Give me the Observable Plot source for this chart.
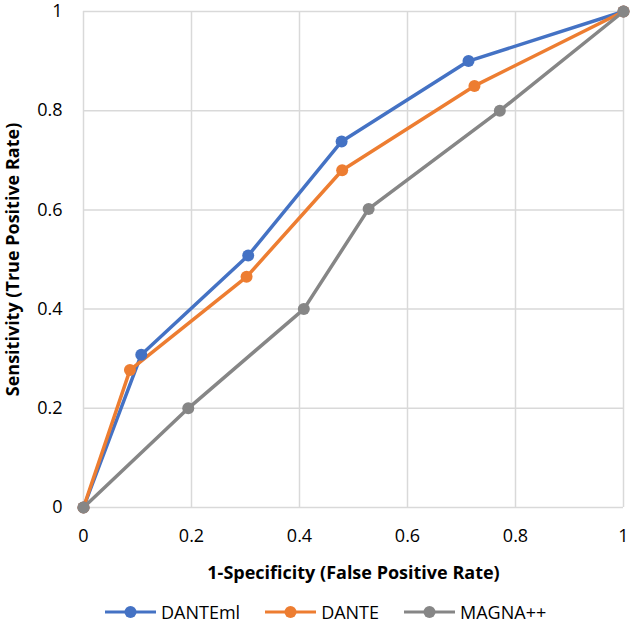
<!DOCTYPE html>
<html>
<head>
<meta charset="utf-8">
<script src="https://cdn.jsdelivr.net/npm/d3@7"></script>
<script src="https://cdn.jsdelivr.net/npm/@observablehq/plot@0.6"></script>
<style>
  html, body { margin: 0; padding: 0; background: #fff; }
  body { width: 630px; height: 626px; overflow: hidden; font-family: "Open Sans", sans-serif; position: relative; }
  #chart { position: absolute; left: 0; top: 0; }
  #legend { position: absolute; left: 105px; top: 601px; height: 22px; display: flex; align-items: center; font-size: 18px; line-height: 20px; color: #000; }
  .item { display: flex; align-items: center; gap: 5px; margin-right: 25px; }
  .item svg { display: block; }
</style>
</head>
<body>
<div id="chart"></div>
<div id="legend"></div>
<script>
const seriesNames = ["DANTEml", "DANTE", "MAGNA++"];
const seriesColors = ["#4472C4", "#ED7D31", "#868686"];
const danteMlFpr = [0, 0.107, 0.305, 0.478, 0.713, 1];
const danteMlTpr = [0, 0.308, 0.508, 0.738, 0.900, 1];
const danteFpr = [0, 0.086, 0.302, 0.479, 0.724, 1];
const danteTpr = [0, 0.277, 0.465, 0.680, 0.850, 1];
const magnaFpr = [0, 0.194, 0.408, 0.528, 0.771, 1];
const magnaTpr = [0, 0.200, 0.400, 0.602, 0.800, 1];
const tickValues = [0, 0.2, 0.4, 0.6, 0.8, 1];

const xs = [danteMlFpr, danteFpr, magnaFpr];
const ys = [danteMlTpr, danteTpr, magnaTpr];
const data = seriesNames.flatMap((s, i) => xs[i].map((x, j) => ({series: s, x, y: ys[i][j]})));
const fmt = d => d === 0 ? "0" : d === 1 ? "1" : String(d);

const plot = Plot.plot({
  width: 630,
  height: 590,
  marginTop: 11,
  marginBottom: 83,
  marginLeft: 83,
  marginRight: 7,
  style: {fontFamily: "Open Sans, sans-serif", color: "#000", background: "#fff"},
  x: {domain: [0, 1], ticks: tickValues, tickFormat: fmt},
  y: {domain: [0, 1], ticks: tickValues, tickFormat: fmt},
  color: {domain: seriesNames, range: seriesColors},
  marks: [
    Plot.gridX(tickValues, {stroke: "#d9d9d9", strokeOpacity: 1, strokeWidth: 1.5}),
    Plot.gridY(tickValues, {stroke: "#d9d9d9", strokeOpacity: 1, strokeWidth: 1.5}),
    Plot.axisX({ticks: tickValues, tickSize: 0, tickPadding: 22, tickFormat: fmt,
      label: "1-Specificity (False Positive Rate)", labelAnchor: "center", labelArrow: "none", labelOffset: 71}),
    Plot.axisY({ticks: tickValues, tickSize: 0, tickPadding: 21, tickFormat: fmt,
      label: "Sensitivity (True Positive Rate)", labelAnchor: "center", labelArrow: "none", labelOffset: 77}),
    Plot.line(data, {x: "x", y: "y", z: "series", stroke: "series", strokeWidth: 3.5}),
    Plot.dot(data, {x: "x", y: "y", fill: "series", r: 6})
  ]
});
document.getElementById("chart").appendChild(plot);
plot.querySelectorAll("g[aria-label='x-axis tick label'] text, g[aria-label='y-axis tick label'] text").forEach(t => {
  t.setAttribute("font-size", "18");
  t.style.fontSize = "18px";
});
plot.querySelectorAll("g[aria-label='x-axis label'] text, g[aria-label='y-axis label'] text").forEach(t => {
  t.setAttribute("font-size", "18");
  t.style.fontSize = "18px";
  t.style.fontWeight = "bold";
});

const legend = document.getElementById("legend");
seriesNames.forEach((s, i) => {
  const item = document.createElement("div");
  item.className = "item";
  item.innerHTML = `<svg width="51" height="14"><line x1="0" y1="7" x2="51" y2="7" stroke="${seriesColors[i]}" stroke-width="3"/><circle cx="25.5" cy="7" r="6" fill="${seriesColors[i]}"/></svg><span>${s}</span>`;
  legend.appendChild(item);
});
</script>
</body>
</html>
